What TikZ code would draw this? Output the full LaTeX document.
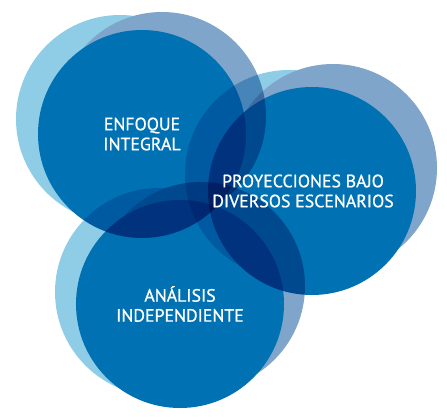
\documentclass[tikz,border=0pt]{standalone}
\usepackage{fontspec}
\setmainfont{PT Sans}
\newfontfamily\discfont{PT Sans}[FakeBold=0.9]
\usepackage{xcolor}
\usepackage{tikz}
\usetikzlibrary{positioning}

\definecolor{mainblue}{HTML}{0071B3}
\definecolor{lightblue}{HTML}{8FCDE7}
\definecolor{greyblue}{HTML}{7FA5CB}

\begin{document}
\begin{tikzpicture}[
        x=1pt, y=-1pt,
        disc/.style={
            circle,
            inner sep=0pt,
            minimum size=208pt
        },
        lightdisc/.style={disc, fill=lightblue},
        greydisc/.style={disc, fill=greyblue},
        maindisc/.style={disc, fill=mainblue},
        disctext/.style={
            text=white,
            align=center,
            font=\discfont\fontsize{17.8}{20}\selectfont
        },
        group/.style={transparency group}
    ]
        \useasboundingbox (0,0) rectangle (447,416);

        \begin{scope}[blend mode=multiply]
        % enfoque integral
        \begin{scope}[group]
            \node[lightdisc] (enfoque-l) at (120,119) {};
            \node[greydisc] (enfoque-g) at (162,116) {};
            \node[maindisc] (enfoque) at (142,134) {};
        \end{scope}

        % proyecciones
        \begin{scope}[group]
            \node[lightdisc] (proy-l) at (289,174) {};
            \node[greydisc] (proy-g) at (333,168) {};
            \node[maindisc] (proy) at (312,191) {};
        \end{scope}

        % analisis
        \begin{scope}[group]
            \node[lightdisc] (analisis-l) at (159,292) {};
            \node[greydisc] (analisis-g) at (201,286) {};
            \node[maindisc] (analisis) at (180,304) {};
        \end{scope}
        \end{scope}

        \node[disctext] (enfoque-t) at (enfoque.center) {ENFOQUE\\INTEGRAL};
        \node[disctext] (proy-t) at ([xshift=-9pt]proy.center) {PROYECCIONES BAJO\\DIVERSOS ESCENARIOS};
        \node[disctext] (analisis-t) at (analisis.center) {ANÁLISIS\\INDEPENDIENTE};
    \end{tikzpicture}
\end{document}
